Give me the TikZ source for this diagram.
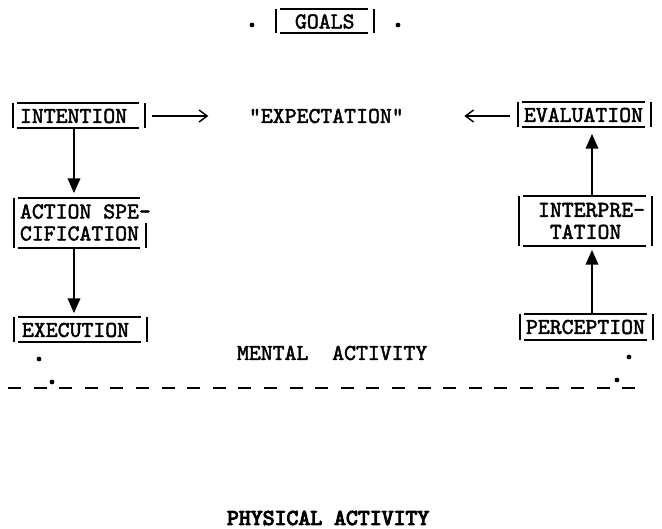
\documentclass[tikz,border=0pt]{standalone}
\usepackage{fontspec}
\newfontfamily\tw[Extension=.otf,FakeBold=2]{lmmono10-regular}
\newfontfamily\twb[Extension=.otf,FakeBold=4.5]{lmmono10-regular}
\usetikzlibrary{arrows.meta,calc}
\tikzset{
  every node/.style={inner sep=0pt, outer sep=0pt},
  txt/.style={anchor=west, align=left, font=\tw\fontsize{17pt}{16.5pt}\selectfont},
  btxt/.style={anchor=west, font=\twb\fontsize{17pt}{16.5pt}\selectfont},
  bar/.style={line width=1.5pt},
  topl/.style={line width=1.4pt},
  botl/.style={line width=2.2pt},
  conn/.style={line width=1.1pt},
  downtip/.style={-{Triangle[length=11pt,width=9.5pt]}},
  opentip/.style={-{Straight Barb[length=6pt,width=9pt,line width=1.1pt]}},
  frame/.style n args={2}{rectangle, minimum width=#1, minimum height=#2},
  decor/.style={append after command={
    (\tikzlastnode.north west) edge[bar] (\tikzlastnode.south west)
    (\tikzlastnode.north east) edge[bar] (\tikzlastnode.south east)
    ([xshift=3.2pt]\tikzlastnode.north west) edge[topl] ([xshift=-4.2pt]\tikzlastnode.north east)
    ([xshift=3.2pt]\tikzlastnode.south west) edge[botl] ([xshift=-4.2pt]\tikzlastnode.south east)
  }},
  dotn/.style={circle, fill=black, minimum size=3.6pt},
  dashl/.style={line width=1.8pt, dash pattern=on 9.75pt off 9.45pt}
}
\begin{document}
\begin{tikzpicture}[x=0.75pt,y=-0.75pt]
\useasboundingbox (0,0) rectangle (662,529);
\coordinate (lx) at (74,0);
\coordinate (rx) at (592,0);

% GOALS
\node[frame={73.5pt}{18pt}, decor] (goals) at (325,21) {};
\node[txt] (goalsT) at (295,21.5) {GOALS};
\node[dotn] (gd1) at (252,25) {};
\node[dotn] (gd2) at (398,25) {};

% top row
\node[frame={99pt}{18.75pt}, decor] (intention) at (79,115.5) {};
\node[txt] (intentionT) at (20,116) {INTENTION};
\node[txt] (expect) at (249,116) {"EXPECTATION"};
\node[frame={99.75pt}{18.75pt}, decor] (evaluation) at (584.5,114.5) {};
\node[txt] (evaluationT) at (524,115) {EVALUATION};

% action specification
\node[frame={99pt}{37.5pt}] (actspec) at (80,223) {};
\node[txt] (actspecT) at (20,222.5) {ACTION SPE-\\CIFICATION};
\draw[bar] (actspec.north west) -- (actspec.south west);
\draw[bar] ([yshift=-18.75pt]actspec.north east) -- (actspec.south east);
\draw[topl] ([xshift=3.2pt]actspec.north west) -- ([xshift=-4.2pt]actspec.north east);
\draw[botl] ([xshift=3.2pt]actspec.south west) -- ([xshift=-4.2pt]actspec.south east);

% interpretation
\node[frame={99.75pt}{37.5pt}, decor] (interp) at (585.5,221) {};
\node[txt] (interpT) at (538,221) {INTERPRE-\\\ TATION};

% bottom row
\node[frame={99.75pt}{18.75pt}, decor] (execution) at (80.5,329.5) {};
\node[txt] (executionT) at (22,330) {EXECUTION};
\node[frame={99.75pt}{19.5pt}, decor] (perception) at (586.5,327) {};
\node[txt] (perceptionT) at (526,327) {PERCEPTION};

% connectors
\draw[conn,opentip,shorten <=5.25pt,shorten >=30.5pt] (intention.east |- expect.west) -- (expect.west);
\draw[conn,opentip,shorten <=6pt,shorten >=45.5pt] (evaluation.west |- expect.east) -- (expect.east);
\draw[conn,downtip,shorten >=3.75pt] (intention.south -| lx) -- (actspec.north -| lx);
\draw[conn,downtip,shorten >=3pt] (actspec.south -| lx) -- (execution.north -| lx);
\draw[conn,downtip,shorten >=3pt] (perception.north -| rx) -- (interp.south -| rx);
\draw[conn,downtip,shorten >=5.25pt] (interp.north -| rx) -- (evaluation.south -| rx);

% divider
\node[txt] (mental) at (237,353) {MENTAL\ \ ACTIVITY};
\node[dotn] (d1) at (39,359) {};
\node[dotn] (d2) at (52,382) {};
\node[dotn] (d3) at (629,357) {};
\node[dotn] (d4) at (617,380) {};
\coordinate (dl) at (8,388);
\coordinate (dr) at (636,388);
\draw[dashl] (dl) -- (dr);

\node[btxt] (physical) at (227,518) {PHYSICAL ACTIVITY};
\end{tikzpicture}
\end{document}
